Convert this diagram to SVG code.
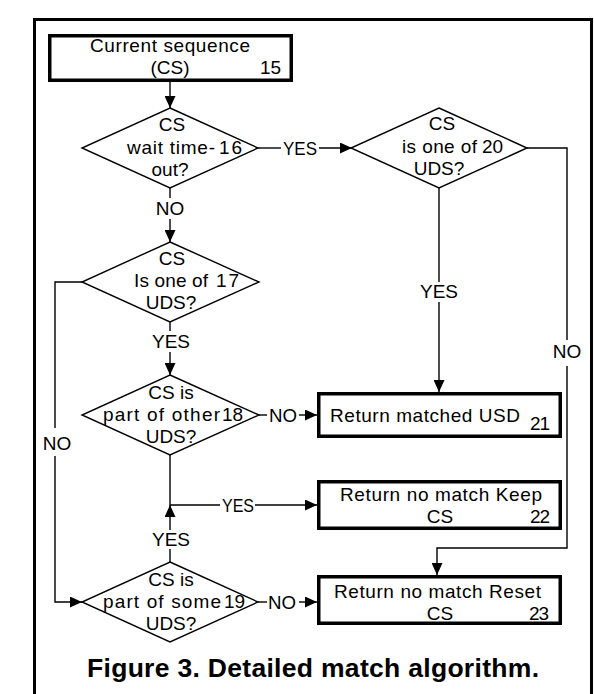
<svg xmlns="http://www.w3.org/2000/svg" width="594" height="694" viewBox="0 0 594 694">
<defs>
<style>
.t{font-family:"Liberation Sans",Arial,sans-serif;font-size:19px;fill:#000}
.c{text-anchor:middle}
.box{fill:#fff;stroke:#000;stroke-width:3.5}
.dia{fill:#fff;stroke:#000;stroke-width:1.4}
.ln{fill:none;stroke:#000;stroke-width:1.4}
.cap{font-family:"Liberation Sans",Arial,sans-serif;font-size:26.5px;font-weight:bold;fill:#000;text-anchor:middle}
</style>
<marker id="ah" markerUnits="userSpaceOnUse" markerWidth="12" markerHeight="11" refX="12" refY="5.5" orient="auto">
<path d="M0,0 L12,5.5 L0,11 z" fill="#000"/>
</marker>
</defs>
<rect width="594" height="694" fill="#fff"/>
<path d="M34.5,700 V19.5 H591.5 V700" fill="none" stroke="#000" stroke-width="3"/>

<g id="connectors">
<path class="ln" d="M170,82 V108" marker-end="url(#ah)"/>
<path class="ln" d="M258,148 H281"/>
<path class="ln" d="M319,148 H352" marker-end="url(#ah)"/>
<path class="ln" d="M170,188 V198"/>
<path class="ln" d="M170,219 V242" marker-end="url(#ah)"/>
<path class="ln" d="M170,322 V331"/>
<path class="ln" d="M170,352 V375" marker-end="url(#ah)"/>
<path class="ln" d="M259,415 H267"/>
<path class="ln" d="M299,415 H317" marker-end="url(#ah)"/>
<path class="ln" d="M170,455 V505 H220"/>
<path class="ln" d="M255,505 H317" marker-end="url(#ah)"/>
<path class="ln" d="M170,530 V505" marker-end="url(#ah)"/>
<path class="ln" d="M170,549 V562"/>
<path class="ln" d="M258,602 H267"/>
<path class="ln" d="M299,602 H317" marker-end="url(#ah)"/>
<path class="ln" d="M82,282 H55 V428"/>
<path class="ln" d="M55,456 V602 H82" marker-end="url(#ah)"/>
<path class="ln" d="M439,188 V282"/>
<path class="ln" d="M439,302 V392" marker-end="url(#ah)"/>
<path class="ln" d="M527,148 H567 V340"/>
<path class="ln" d="M567,366 V548 H437 V575" marker-end="url(#ah)"/>
<text class="t" x="283" y="155" textLength="34" lengthAdjust="spacingAndGlyphs">YES</text>
<text class="t c" x="170" y="215">NO</text>
<text class="t c" x="171" y="348">YES</text>
<text class="t" x="269" y="422" textLength="28" lengthAdjust="spacingAndGlyphs">NO</text>
<text class="t" x="222" y="512" textLength="32" lengthAdjust="spacingAndGlyphs">YES</text>
<text class="t c" x="171" y="546">YES</text>
<text class="t" x="268" y="609" textLength="28" lengthAdjust="spacingAndGlyphs">NO</text>
<text class="t c" x="57" y="450">NO</text>
<text class="t c" x="439" y="298">YES</text>
<text class="t c" x="567" y="358">NO</text>
</g>

<g id="n15">
<rect class="box" x="49.75" y="35.75" width="241.5" height="44.5"/>
<text class="t" x="90" y="52" textLength="160" lengthAdjust="spacing">Current sequence</text>
<text class="t c" x="170" y="74">(CS)</text>
<text class="t" x="260" y="74">15</text>
</g>

<g id="n16">
<polygon class="dia" points="170,108 258,148 170,188 82,148"/>
<text class="t c" x="172" y="131">CS</text>
<text class="t" x="127" y="154" textLength="88" lengthAdjust="spacing">wait time-</text>
<text class="t" x="219" y="154" textLength="23" lengthAdjust="spacing">16</text>
<text class="t c" x="170" y="176">out?</text>
</g>

<g id="n20">
<polygon class="dia" points="439,108 527,148 439,188 351,148"/>
<text class="t c" x="442" y="130">CS</text>
<text class="t" x="402" y="153" textLength="75" lengthAdjust="spacing">is one of</text>
<text class="t" x="482" y="153" textLength="21" lengthAdjust="spacing">20</text>
<text class="t c" x="439" y="175">UDS?</text>
</g>

<g id="n17">
<polygon class="dia" points="170,242 259,282 170,322 82,282"/>
<text class="t c" x="172" y="265">CS</text>
<text class="t" x="134" y="287" textLength="74" lengthAdjust="spacing">Is one of</text>
<text class="t" x="216" y="287" textLength="23" lengthAdjust="spacing">17</text>
<text class="t c" x="171" y="309">UDS?</text>
</g>

<g id="n18">
<polygon class="dia" points="170,375 259,415 170,455 82,415"/>
<text class="t c" x="171" y="399">CS is</text>
<text class="t" x="103" y="421" textLength="117" lengthAdjust="spacing">part of other</text>
<text class="t" x="222" y="421" textLength="21" lengthAdjust="spacing">18</text>
<text class="t c" x="171" y="443">UDS?</text>
</g>

<g id="n19">
<polygon class="dia" points="170,562 258,602 170,642 82,602"/>
<text class="t c" x="171" y="586">CS is</text>
<text class="t" x="103" y="608" textLength="118" lengthAdjust="spacing">part of some</text>
<text class="t" x="224" y="608" textLength="21" lengthAdjust="spacing">19</text>
<text class="t c" x="171" y="630">UDS?</text>
</g>

<g id="n21">
<rect class="box" x="318.75" y="393.75" width="241.5" height="42.5"/>
<text class="t" x="330" y="422" textLength="190" lengthAdjust="spacing">Return matched USD</text>
<text class="t" x="530" y="430" textLength="20" lengthAdjust="spacing">21</text>
</g>

<g id="n22">
<rect class="box" x="318.75" y="481.75" width="241.5" height="46.5"/>
<text class="t" x="340" y="501" textLength="202" lengthAdjust="spacing">Return no match Keep</text>
<text class="t c" x="440" y="523">CS</text>
<text class="t" x="530" y="523" textLength="20" lengthAdjust="spacing">22</text>
</g>

<g id="n23">
<rect class="box" x="318.75" y="576.75" width="241.5" height="46.5"/>
<text class="t" x="334" y="598" textLength="207" lengthAdjust="spacing">Return no match Reset</text>
<text class="t c" x="440" y="620">CS</text>
<text class="t" x="529" y="620" textLength="20" lengthAdjust="spacing">23</text>
</g>

<text class="cap" x="313" y="677" textLength="452" lengthAdjust="spacing">Figure 3. Detailed match algorithm.</text>
</svg>
